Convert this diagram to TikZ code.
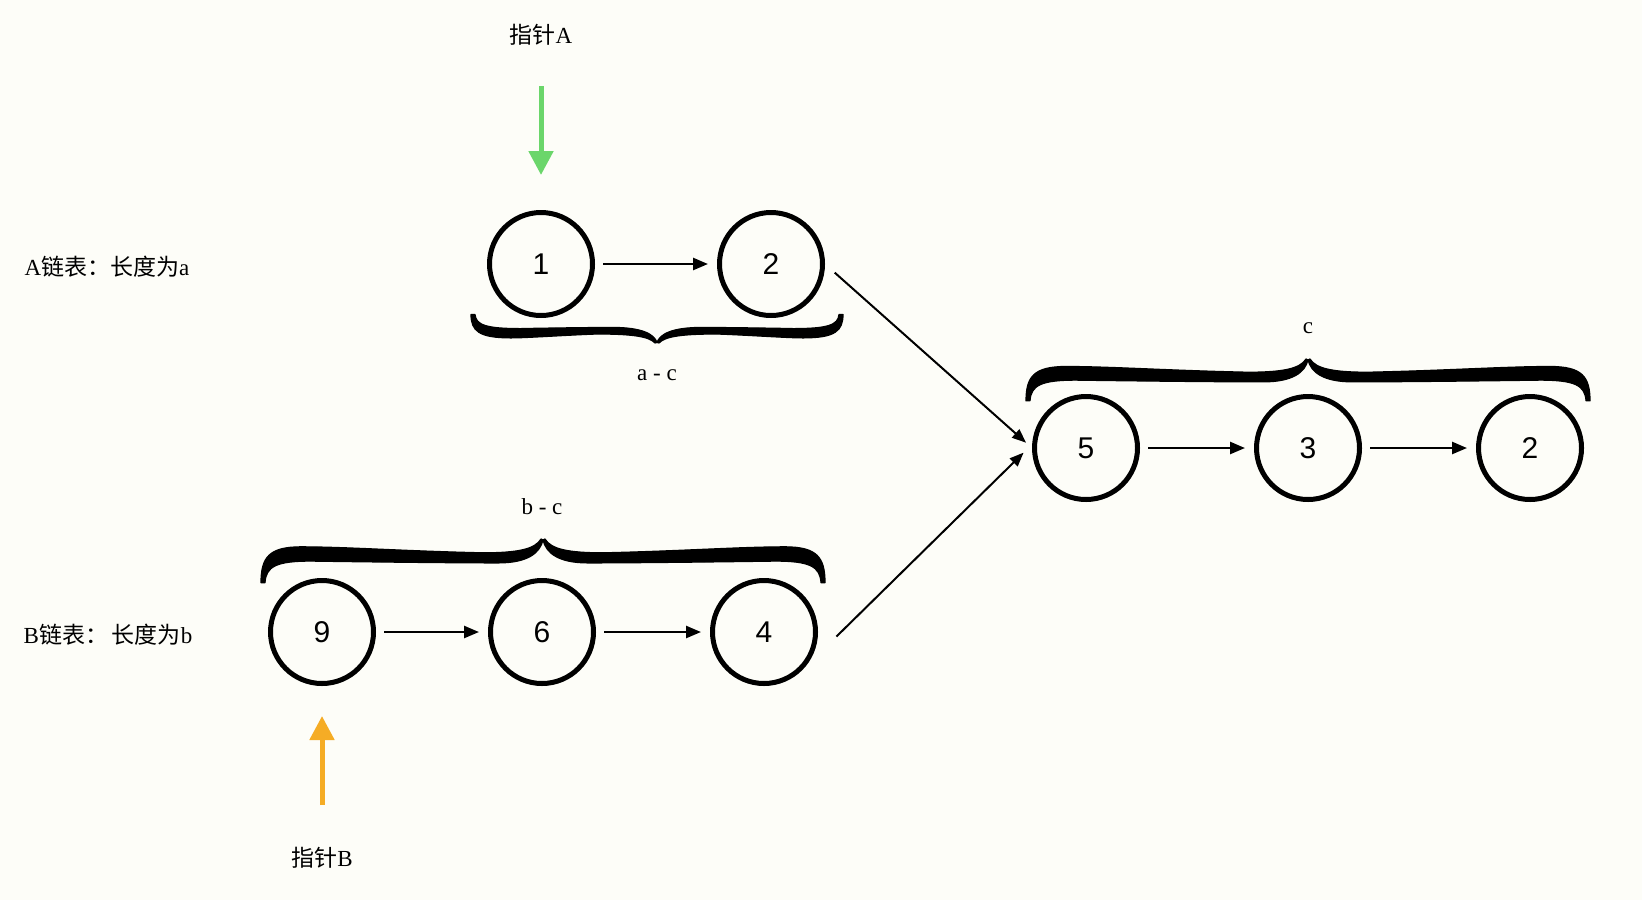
\documentclass[tikz,border=0pt]{standalone}
\usepackage{fontspec}
\setmainfont{Liberation Serif}
\newfontfamily\cjk{Noto Sans CJK SC}
\newfontfamily\digitfont{Liberation Sans}
\usetikzlibrary{arrows.meta}
\definecolor{bgc}{HTML}{FDFDF8}
\definecolor{ptrgreen}{HTML}{6BD66B}
\definecolor{ptrorange}{HTML}{F5AC25}
\newcommand\halfbraceshape[1]{%
  \filldraw[line width=0.6pt, line join=round]
    (-2,0) .. controls (-8,0.22) and (-25,0.3) .. (-60,0.3)
    .. controls ({-0.5*#1},0.26) and ({-0.7*#1},0.17) .. ({-#1+40},0.17)
    .. controls ({-#1+8},0.17) and (-#1,0.4) .. (-#1,0.95)
    -- ({-#1+4},0.95)
    .. controls ({-#1+5},0.6) and ({-#1+15},0.48) .. ({-#1+50},0.48)
    .. controls ({-0.6*#1},0.5) and ({-0.3*#1},0.52) .. (-45,0.52)
    .. controls (-15,0.52) and (-3,0.3) .. (0,0.02) -- cycle;}
\newcommand\curlybrace[4]{%
  \begin{scope}[shift={(#1,#2)},yscale=#4]
    \halfbraceshape{#3}
    \begin{scope}[xscale=-1]\halfbraceshape{#3}\end{scope}
  \end{scope}}
\begin{document}
\begin{tikzpicture}[x=0.5pt,y=-0.5pt,
  listnode/.style={circle, draw, line width=2.5pt, minimum size=51.5pt, inner sep=0pt,
    font=\digitfont\fontsize{15}{17}\selectfont},
  link/.style={-{Triangle[length=7.5pt,width=6pt]}, line width=1.25pt, shorten <=4pt, shorten >=4.5pt},
  cross/.style={-{Triangle[length=7pt,width=5.5pt]}, line width=1pt},
  txt/.style={font=\fontsize{11.5}{14}\selectfont, inner sep=0pt},
  ptr/.style={line width=2.5pt, -{Triangle[length=12pt,width=12pt]}}]
\fill[bgc] (0,0) rectangle (1642,900);

% list A
\node[listnode] (a1) at (541,264) {1};
\node[listnode] (a2) at (771,264) {2};
% shared part
\node[listnode] (c5) at (1086,448) {5};
\node[listnode] (c3) at (1308,448) {3};
\node[listnode] (c2) at (1530,448) {2};
% list B
\node[listnode] (b9) at (322,632) {9};
\node[listnode] (b6) at (542,632) {6};
\node[listnode] (b4) at (764,632) {4};

\draw[link] (a1) -- (a2);
\draw[link] (c5) -- (c3);
\draw[link] (c3) -- (c2);
\draw[link] (b9) -- (b6);
\draw[link] (b6) -- (b4);

\draw[cross, shorten <=6.5pt, shorten >=4pt] (a2.0) -- (c5.180);
\draw[cross, shorten <=24pt, shorten >=6pt] (b4.-45) -- (c5.176);

% labels
\node[txt] (la) at (107,267) {A{\cjk 链表：长度为}a};
\node[txt] (lb) at (108,635) {B{\cjk 链表：\,长度为}b};
\node[txt] (pa) at (541,35) {{\cjk 指针}A};
\node[txt] (pb) at (322,858) {{\cjk 指针}B};

% pointers
\coordinate (pas) at (541,86);
\coordinate (pbs) at (322,805);
\draw[ptr, ptrgreen, shorten >=17.5pt] (pas) -- (a1);
\draw[ptr, ptrorange, shorten >=15pt] (pbs) -- (b9);

% braces
\curlybrace{657}{343}{186}{-30}
\node[txt] (lac) at (657,375) {a - c};
\curlybrace{543}{539}{282}{46}
\node[txt] (lbc) at (542,507) {b - c};
\curlybrace{1308}{359}{282}{44}
\node[txt] (lc) at (1308,328) {c};
\end{tikzpicture}
\end{document}
